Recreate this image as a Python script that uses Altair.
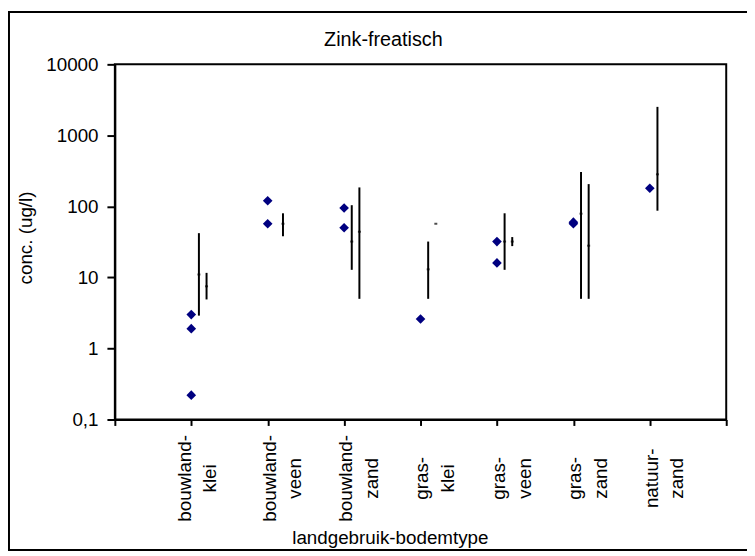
import altair as alt
import pandas as pd

categories = ["bouwland-klei", "bouwland-veen", "bouwland-zand", "gras-klei",
              "gras-veen", "gras-zand", "natuur-zand"]

# measured concentrations (diamonds)
point_category = ["bouwland-klei", "bouwland-klei", "bouwland-klei",
                  "bouwland-veen", "bouwland-veen",
                  "bouwland-zand", "bouwland-zand",
                  "gras-klei",
                  "gras-veen", "gras-veen",
                  "gras-zand", "gras-zand",
                  "natuur-zand"]
point_value = [3.0, 1.9, 0.22, 120, 57, 95, 50, 2.6, 32, 16, 60, 57, 180]

# range series A and B per category: low, mid, high (None = no range)
range_a_low = [2.9, None, 12.8, 5.0, 12.8, 5.0, 87]
range_a_mid = [11, None, 32, 13, 32, 79, 283]
range_a_high = [42, None, 104, 32, 80, 305, 2520]
range_b_low = [4.9, 38, 5.0, 57, 27.6, 5.0, None]
range_b_mid = [7.5, 57, 44, 57, 32, 28, None]
range_b_high = [11.6, 80, 185, 57, 37, 206, None]

y_ticks = [0.1, 1, 10, 100, 1000, 10000]

FONT = "Liberation Sans"

pts = pd.DataFrame({"cat": point_category, "value": point_value})
pts["pos"] = [categories.index(c) + 1 for c in point_category]

rows = []
for off, lows, mids, highs in ((0.1, range_a_low, range_a_mid, range_a_high),
                               (0.2, range_b_low, range_b_mid, range_b_high)):
    for i, c in enumerate(categories):
        if lows[i] is None:
            continue
        rows.append({"cat": c, "pos": i + 1 + off, "low": lows[i],
                     "mid": mids[i], "high": highs[i]})
rng = pd.DataFrame(rows)

label_lines = [[""]] + [[c.split("-")[0] + "-", c.split("-")[1]] for c in categories] + [[""]]
label_expr = "[" + ",".join(
    "[" + ",".join("'" + s + "'" for s in lines) + "]" for lines in label_lines
) + "][datum.value]"

xs = alt.Scale(domain=[0, 8], nice=False, zero=False)
ys = alt.Scale(type="log", domain=[0.1, 10000], nice=False)

xaxis = alt.Axis(
    values=list(range(0, 9)), labelExpr=label_expr, title="landgebruik-bodemtype",
    labelAngle=270, labelAlign="center", labelBaseline="middle",
    labelPadding=53, labelLineHeight=26, tickSize=6,
    labelOffset={"condition": {"test": "datum.value == 1", "value": -7}, "value": 1.5},
    titleX=278, titleY=119, titleAlign="center", titleBaseline="middle",
    labelOverlap=False, labelFlush=False,
)
yaxis = alt.Axis(
    values=y_ticks, labelExpr="replace(toString(datum.value), '.', ',')",
    title="conc. (ug/l)", tickSize=8, labelPadding=9,
    titleX=-90, titleY=175, titleAngle=270, titleAlign="center", titleBaseline="middle",
    labelOverlap=False,
)

points = alt.Chart(pts).mark_point(
    shape="diamond", filled=True, color="#000080", size=95, opacity=1
).encode(
    x=alt.X("pos:Q", scale=xs, axis=xaxis),
    y=alt.Y("value:Q", scale=ys, axis=yaxis),
)

rules = alt.Chart(rng).mark_rule(color="black", strokeWidth=2).encode(
    x=alt.X("pos:Q", scale=xs, axis=xaxis),
    y=alt.Y("low:Q", scale=ys, axis=yaxis),
    y2="high:Q",
)

mids = alt.Chart(rng).mark_tick(
    color="black", orient="horizontal", size=3, thickness=2
).encode(
    x=alt.X("pos:Q", scale=xs, axis=xaxis),
    y=alt.Y("mid:Q", scale=ys, axis=yaxis),
)

one = pd.DataFrame({"t": ["Zink-freatisch"]})
title = alt.Chart(one).mark_text(
    font=FONT, fontSize=20, color="black", align="center", baseline="alphabetic"
).encode(text="t:N", x=alt.value(271.5), y=alt.value(-19))

# outer chart frame (right side lies outside the picture)
frame_top = alt.Chart(one).mark_rule(color="black", strokeWidth=2).encode(
    x=alt.value(-108), x2=alt.value(700), y=alt.value(-53))
frame_left = alt.Chart(one).mark_rule(color="black", strokeWidth=2).encode(
    x=alt.value(-107), y=alt.value(-54), y2=alt.value(492))
frame_bottom = alt.Chart(one).mark_rule(color="black", strokeWidth=2).encode(
    x=alt.value(-108), x2=alt.value(700), y=alt.value(491))

chart = alt.layer(frame_top, frame_left, frame_bottom, rules, mids, points, title).properties(
    width=618, height=359,
    autosize=alt.AutoSizeParams(type="none"),
    padding={"left": 108, "top": 54, "right": 21, "bottom": 133},
    background="white",
).configure_view(
    stroke="black", strokeWidth=2
).configure_axis(
    grid=False, domainColor="black", domainWidth=2, tickColor="black", tickWidth=2,
    labelColor="black", titleColor="black", labelFont=FONT, titleFont=FONT,
    labelFontSize=19, titleFontSize=19, titleFontWeight="normal",
)

chart.save("out.html", embed_options={"renderer": "svg", "actions": False})
